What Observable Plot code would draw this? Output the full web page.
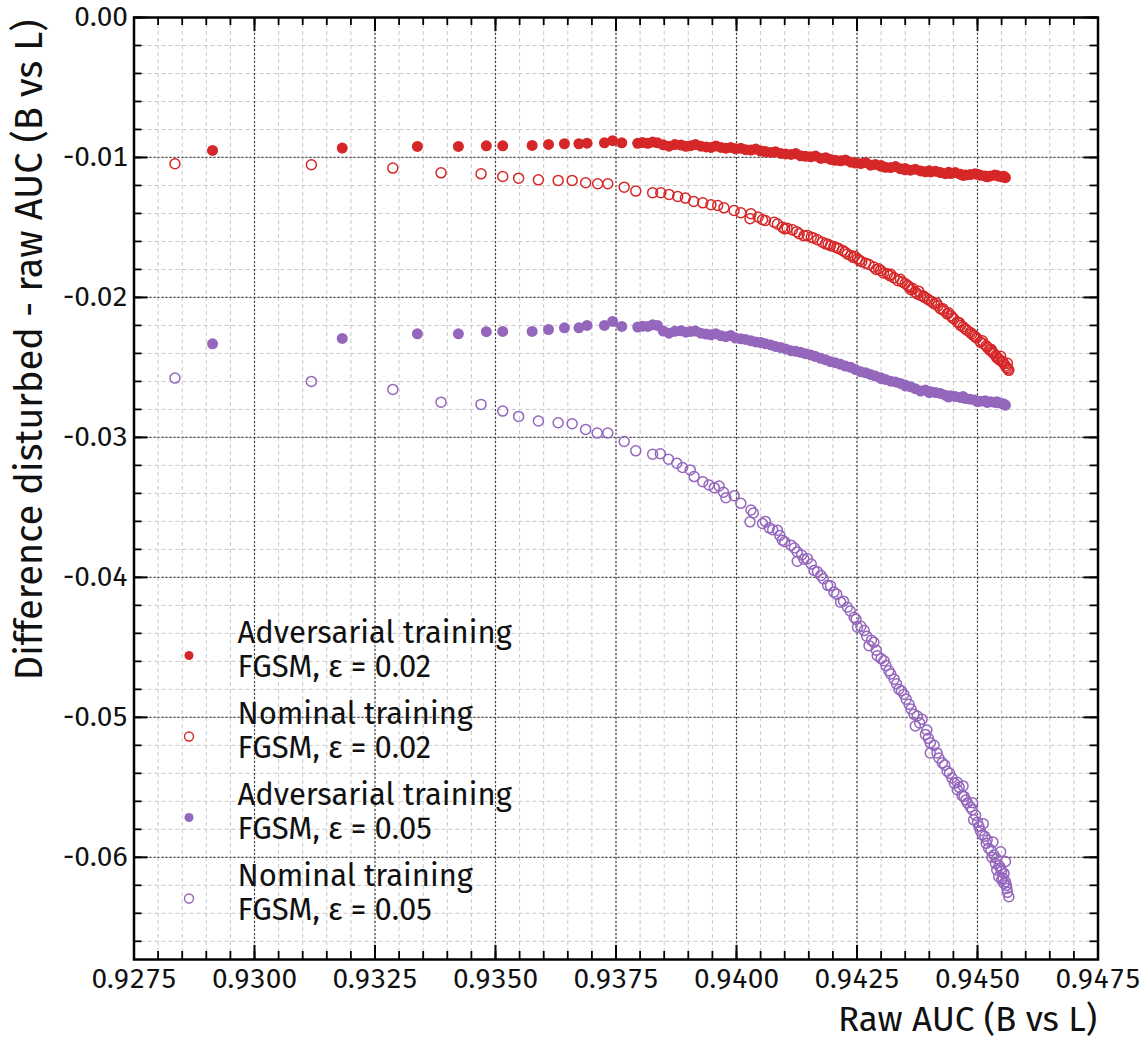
<!DOCTYPE html>
<html><head><meta charset="utf-8">
<script src="https://cdn.jsdelivr.net/npm/d3@7"></script>
<script src="https://cdn.jsdelivr.net/npm/@observablehq/plot@0.6"></script>
<style>body{margin:0;background:#fff;}</style>
</head><body><div id="chart"></div>
<script>
// ---- tick labels ----
const xMajor = [0.9275, 0.9300, 0.9325, 0.9350, 0.9375, 0.9400, 0.9425, 0.9450, 0.9475];
const yMajor = [0, -0.01, -0.02, -0.03, -0.04, -0.05, -0.06];
const xMinor = d3.range(41).map(i => 0.9275 + i * 0.0005);
const yMinor = d3.range(34).map(i => -i * 0.002);

// ---- series ----
// Adversarial training (filled dots): shared raw AUC values
const advX = [0.92913, 0.93182, 0.93338, 0.93423, 0.93481, 0.93515, 0.93576, 0.93610, 0.93643, 0.93673, 0.93690,
  0.93726, 0.93743, 0.93762, 0.93795, 0.93805, 0.93816, 0.93826, 0.93836, 0.93848, 0.93860,
  0.93872, 0.93885, 0.93895, 0.93905, 0.93915, 0.93926, 0.93937, 0.93947, 0.93957, 0.93968,
  0.93978, 0.93988, 0.93998, 0.94009, 0.94019, 0.94030, 0.94040, 0.94050, 0.94060, 0.94071,
  0.94081, 0.94092, 0.94102, 0.94113, 0.94123, 0.94133, 0.94143, 0.94154, 0.94164, 0.94175,
  0.94185, 0.94195, 0.94205, 0.94216, 0.94226, 0.94237, 0.94247, 0.94258, 0.94268, 0.94278,
  0.94288, 0.94299, 0.94309, 0.94320, 0.94330, 0.94340, 0.94350, 0.94361, 0.94371, 0.94382,
  0.94392, 0.94403, 0.94413, 0.94423, 0.94433, 0.94444, 0.94454, 0.94465, 0.94475, 0.94485,
  0.94495, 0.94506, 0.94516, 0.94527, 0.94536, 0.94544, 0.94552, 0.94558,
  0.94300, 0.94350, 0.94400, 0.94440, 0.94470, 0.94500, 0.94520, 0.94540, 0.94555];
const advY02 = [-0.00950, -0.00933, -0.00921, -0.00921, -0.00917, -0.00917, -0.00914, -0.00907, -0.00902, -0.00902, -0.00898,
  -0.00895, -0.00880, -0.00895, -0.00899, -0.00893, -0.00899, -0.00890, -0.00895, -0.00910, -0.00919,
  -0.00908, -0.00911, -0.00920, -0.00916, -0.00908, -0.00919, -0.00925, -0.00928, -0.00918, -0.00928,
  -0.00934, -0.00928, -0.00938, -0.00935, -0.00944, -0.00947, -0.00940, -0.00954, -0.00958, -0.00964,
  -0.00960, -0.00971, -0.00975, -0.00978, -0.00972, -0.00988, -0.00992, -0.00995, -0.00990, -0.01007,
  -0.01002, -0.01014, -0.01020, -0.01024, -0.01018, -0.01034, -0.01040, -0.01043, -0.01036, -0.01055,
  -0.01050, -0.01062, -0.01070, -0.01072, -0.01065, -0.01081, -0.01088, -0.01091, -0.01084, -0.01096,
  -0.01102, -0.01103, -0.01098, -0.01108, -0.01116, -0.01115, -0.01108, -0.01120, -0.01126, -0.01122,
  -0.01117, -0.01127, -0.01133, -0.01132, -0.01126, -0.01134, -0.01140, -0.01144,
  -0.01058, -0.01078, -0.01094, -0.01105, -0.01128, -0.01120, -0.01138, -0.01128, -0.01135];
const advY05 = [-0.02331, -0.02293, -0.02260, -0.02260, -0.02245, -0.02243, -0.02243, -0.02229, -0.02217, -0.02217, -0.02200,
  -0.02200, -0.02171, -0.02207, -0.02212, -0.02205, -0.02207, -0.02196, -0.02200, -0.02240, -0.02255,
  -0.02242, -0.02238, -0.02248, -0.02243, -0.02240, -0.02255, -0.02262, -0.02267, -0.02260, -0.02274,
  -0.02280, -0.02272, -0.02290, -0.02296, -0.02300, -0.02310, -0.02318, -0.02322, -0.02330, -0.02339,
  -0.02350, -0.02358, -0.02368, -0.02380, -0.02385, -0.02392, -0.02402, -0.02411, -0.02422, -0.02435,
  -0.02446, -0.02459, -0.02466, -0.02478, -0.02490, -0.02499, -0.02515, -0.02531, -0.02538, -0.02550,
  -0.02562, -0.02574, -0.02586, -0.02598, -0.02604, -0.02614, -0.02626, -0.02638, -0.02652, -0.02669,
  -0.02662, -0.02674, -0.02680, -0.02686, -0.02698, -0.02703, -0.02708, -0.02715, -0.02722, -0.02727,
  -0.02733, -0.02741, -0.02738, -0.02746, -0.02750, -0.02753, -0.02760, -0.02770,
  -0.02580, -0.02632, -0.02680, -0.02712, -0.02708, -0.02745, -0.02750, -0.02745, -0.02762];

// Nominal training, eps = 0.02 (open red)
const nomX02 = [0.92835, 0.93118, 0.93287, 0.93387, 0.93470, 0.93515, 0.93548, 0.93589, 0.93630, 0.93659, 0.93687,
  0.93712, 0.93733, 0.93767, 0.93791, 0.93826, 0.93843, 0.93860, 0.93878, 0.93894, 0.93911,
  0.93930, 0.93947, 0.93961, 0.93974, 0.93995, 0.94009, 0.94028, 0.94030, 0.94054, 0.94078,
  0.94095, 0.94116, 0.94130, 0.94147, 0.94168, 0.94185, 0.94202, 0.94220, 0.94237, 0.94251,
  0.94268, 0.94285, 0.94299, 0.94313, 0.94327, 0.94344, 0.94358, 0.94371, 0.94382, 0.94396,
  0.94410, 0.94423, 0.94437, 0.94451, 0.94465, 0.94479, 0.94492, 0.94506, 0.94520, 0.94534,
  0.94544, 0.94555, 0.94565,
  0.94045, 0.94085, 0.94105, 0.94140, 0.94160, 0.94178, 0.94195, 0.94212, 0.94230, 0.94245,
  0.94260, 0.94290, 0.94320, 0.94335, 0.94350, 0.94365, 0.94378, 0.94390, 0.94405, 0.94418,
  0.94430, 0.94445, 0.94458, 0.94470, 0.94485, 0.94498, 0.94512, 0.94525, 0.94538, 0.94550,
  0.94560, 0.94562, 0.94548, 0.94530,
  0.94060, 0.94100, 0.94125, 0.94155, 0.94190, 0.94208, 0.94225, 0.94242, 0.94255, 0.94275,
  0.94295, 0.94305, 0.94318, 0.94340, 0.94355, 0.94362, 0.94375, 0.94388, 0.94400, 0.94415,
  0.94428, 0.94440, 0.94448, 0.94462, 0.94475, 0.94488, 0.94495, 0.94510, 0.94518, 0.94532,
  0.94540, 0.94552, 0.94558, 0.94563, 0.94545, 0.94528];
const nomY02 = [-0.01045, -0.01052, -0.01076, -0.01110, -0.01117, -0.01136, -0.01148, -0.01160, -0.01164, -0.01164, -0.01181,
  -0.01188, -0.01188, -0.01212, -0.01240, -0.01252, -0.01252, -0.01264, -0.01279, -0.01290, -0.01314,
  -0.01324, -0.01338, -0.01343, -0.01360, -0.01379, -0.01395, -0.01438, -0.01402, -0.01445, -0.01462,
  -0.01498, -0.01517, -0.01545, -0.01557, -0.01588, -0.01617, -0.01636, -0.01664, -0.01700, -0.01724,
  -0.01755, -0.01783, -0.01807, -0.01831, -0.01860, -0.01890, -0.01926, -0.01962, -0.01986, -0.02010,
  -0.02045, -0.02081, -0.02117, -0.02152, -0.02200, -0.02236, -0.02271, -0.02319, -0.02355, -0.02402,
  -0.02438, -0.02474, -0.02521,
  -0.01425, -0.01475, -0.01505, -0.01560, -0.01575, -0.01605, -0.01630, -0.01650, -0.01690, -0.01705,
  -0.01745, -0.01800, -0.01835, -0.01880, -0.01900, -0.01935, -0.01955, -0.02000, -0.02030, -0.02060,
  -0.02095, -0.02130, -0.02175, -0.02210, -0.02250, -0.02290, -0.02330, -0.02375, -0.02415, -0.02455,
  -0.02500, -0.02470, -0.02420, -0.02385,
  -0.01450, -0.01510, -0.01530, -0.01570, -0.01620, -0.01645, -0.01675, -0.01715, -0.01735, -0.01765,
  -0.01795, -0.01825, -0.01845, -0.01870, -0.01915, -0.01945, -0.01975, -0.01990, -0.02020, -0.02040,
  -0.02080, -0.02110, -0.02145, -0.02180, -0.02225, -0.02260, -0.02280, -0.02310, -0.02345, -0.02395,
  -0.02430, -0.02460, -0.02490, -0.02510, -0.02445, -0.02370];

// Nominal training, eps = 0.05 (open purple)
const nomX05 = [0.92835, 0.93118, 0.93287, 0.93387, 0.93470, 0.93515, 0.93548, 0.93589, 0.93630, 0.93659, 0.93687,
  0.93711, 0.93733, 0.93767, 0.93791, 0.93826, 0.93842, 0.93859, 0.93876, 0.93888, 0.93904,
  0.93912, 0.93930, 0.93943, 0.93954, 0.93964, 0.93973, 0.93978, 0.93995, 0.94009, 0.94030,
  0.94028, 0.94054, 0.94068, 0.94085, 0.94095, 0.94113, 0.94126, 0.94126, 0.94147, 0.94161,
  0.94175, 0.94189, 0.94202, 0.94216, 0.94230, 0.94244, 0.94251, 0.94265, 0.94275, 0.94285,
  0.94292, 0.94306, 0.94316, 0.94327, 0.94337, 0.94347, 0.94358, 0.94368, 0.94371, 0.94385,
  0.94392, 0.94402, 0.94402, 0.94416, 0.94427, 0.94437, 0.94447, 0.94458, 0.94458, 0.94472,
  0.94479, 0.94489, 0.94492, 0.94503, 0.94510, 0.94520, 0.94523, 0.94534, 0.94537, 0.94548,
  0.94555, 0.94558, 0.94561, 0.94565, 0.94555, 0.94544,
  0.94035, 0.94060, 0.94075, 0.94090, 0.94100, 0.94120, 0.94135, 0.94140, 0.94155, 0.94168,
  0.94180, 0.94195, 0.94208, 0.94222, 0.94236, 0.94248, 0.94258, 0.94270, 0.94280, 0.94290,
  0.94300, 0.94310, 0.94320, 0.94332, 0.94342, 0.94352, 0.94362, 0.94375, 0.94380, 0.94395,
  0.94398, 0.94410, 0.94420, 0.94432, 0.94442, 0.94452, 0.94462, 0.94468, 0.94476, 0.94485,
  0.94496, 0.94500, 0.94506, 0.94515, 0.94518, 0.94528, 0.94540, 0.94545, 0.94550, 0.94553,
  0.94560, 0.94562, 0.94550, 0.94540, 0.94530, 0.94558, 0.94548, 0.94532, 0.94512, 0.94490,
  0.94470];
const nomY05 = [-0.02576, -0.02600, -0.02657, -0.02748, -0.02764, -0.02812, -0.02850, -0.02883, -0.02895, -0.02902, -0.02943,
  -0.02969, -0.02969, -0.03029, -0.03096, -0.03120, -0.03117, -0.03156, -0.03184, -0.03215, -0.03232,
  -0.03280, -0.03316, -0.03340, -0.03359, -0.03347, -0.03392, -0.03431, -0.03416, -0.03471, -0.03519,
  -0.03603, -0.03615, -0.03646, -0.03663, -0.03734, -0.03770, -0.03818, -0.03885, -0.03866, -0.03950,
  -0.03986, -0.04057, -0.04105, -0.04177, -0.04213, -0.04285, -0.04356, -0.04380, -0.04488, -0.04464,
  -0.04560, -0.04596, -0.04667, -0.04727, -0.04799, -0.04835, -0.04907, -0.04978, -0.05062, -0.05014,
  -0.05122, -0.05182, -0.05254, -0.05254, -0.05325, -0.05385, -0.05433, -0.05464, -0.05517, -0.05565,
  -0.05612, -0.05660, -0.05732, -0.05780, -0.05840, -0.05876, -0.05935, -0.05983, -0.06043, -0.06079,
  -0.06115, -0.06175, -0.06222, -0.06282, -0.06187, -0.06139,
  -0.03540, -0.03600, -0.03660, -0.03700, -0.03745, -0.03790, -0.03840, -0.03870, -0.03905, -0.03960,
  -0.04010, -0.04060, -0.04120, -0.04170, -0.04240, -0.04300, -0.04350, -0.04420, -0.04450, -0.04520,
  -0.04580, -0.04630, -0.04690, -0.04760, -0.04810, -0.04870, -0.04940, -0.04990, -0.05040, -0.05090,
  -0.05150, -0.05200, -0.05290, -0.05340, -0.05400, -0.05470, -0.05500, -0.05560, -0.05590, -0.05640,
  -0.05700, -0.05750, -0.05810, -0.05850, -0.05900, -0.05950, -0.06010, -0.06060, -0.06100, -0.06150,
  -0.06200, -0.06250, -0.06160, -0.06090, -0.06000, -0.06030, -0.05960, -0.05890, -0.05760, -0.05610,
  -0.05490];

const RED = "#d62728", PURPLE = "#9467bd";
const legendLabels = ["Adversarial training\nFGSM, ε = 0.02", "Nominal training\nFGSM, ε = 0.02",
                      "Adversarial training\nFGSM, ε = 0.05", "Nominal training\nFGSM, ε = 0.05"];
const legendColors = [RED, RED, PURPLE, PURPLE];
const legendFilled = [true, false, true, false];

const toRows = (xs, ys) => xs.map((x, i) => ({x, y: ys[i]}));
const sAdv02 = toRows(advX, advY02), sAdv05 = toRows(advX, advY05);
const sNom02 = toRows(nomX02, nomY02), sNom05 = toRows(nomX05, nomY05);

const W = 1142, H = 1040, ML = 133.5, MR = 44.5, MT = 17, MB = 81;
const FW = W - ML - MR, FH = H - MT - MB;
const FONT = "'Fira Sans', 'Open Sans', sans-serif";
const legend = legendLabels.map((label, i) => ({label, i, color: legendColors[i], filled: legendFilled[i]}));

const legendMarks = legend.flatMap((d, i) => [
  Plot.dot([d], {frameAnchor: "bottom-left", dx: 55, dy: -304 + 81 * i, r: 4.5,
    fill: d.filled ? d.color : "none", stroke: d.filled ? "none" : d.color, strokeWidth: 1.4}),
  Plot.text([d], {text: "label", frameAnchor: "bottom-left", dx: 103.5, dy: -310 + 81 * i,
    textAnchor: "start", lineAnchor: "middle", lineHeight: 1.1, fontSize: 31, fill: "#111"})
]);

const plot = Plot.plot({
  width: W, height: H,
  marginLeft: ML, marginRight: MR, marginTop: MT, marginBottom: MB,
  style: {fontFamily: FONT, color: "#111", background: "#fff", overflow: "visible"},
  x: {domain: [0.9275, 0.9475]},
  y: {domain: [-0.0673, 0]},
  marks: [
    Plot.ruleX(xMinor, {x: d => d, stroke: "#c8c8c8", strokeDasharray: "4,3", strokeWidth: 1}),
    Plot.ruleY(yMinor, {y: d => d, stroke: "#c8c8c8", strokeDasharray: "4,3", strokeWidth: 1}),
    Plot.ruleX(xMajor, {x: d => d, stroke: "#444", strokeDasharray: "2,2", strokeWidth: 1.2}),
    Plot.ruleY(yMajor, {y: d => d, stroke: "#444", strokeDasharray: "2,2", strokeWidth: 1.2}),
    Plot.dot(sAdv02, {x: "x", y: "y", r: 5.5, fill: RED, stroke: "none"}),
    Plot.dot(sNom02, {x: "x", y: "y", r: 5, fill: "none", stroke: RED, strokeWidth: 1.5}),
    Plot.dot(sAdv05, {x: "x", y: "y", r: 5.5, fill: PURPLE, stroke: "none"}),
    Plot.dot(sNom05, {x: "x", y: "y", r: 5, fill: "none", stroke: PURPLE, strokeWidth: 1.5}),
    // inward ticks on all four sides
    Plot.tickX(xMinor, {x: d => d, insetTop: FH - 8, stroke: "#000", strokeWidth: 1.8}),
    Plot.tickX(xMajor, {x: d => d, insetTop: FH - 14, stroke: "#000", strokeWidth: 2}),
    Plot.tickX(xMinor, {x: d => d, insetBottom: FH - 8, stroke: "#000", strokeWidth: 1.8}),
    Plot.tickX(xMajor, {x: d => d, insetBottom: FH - 14, stroke: "#000", strokeWidth: 2}),
    Plot.tickY(yMinor, {y: d => d, insetRight: FW - 8, stroke: "#000", strokeWidth: 1.8}),
    Plot.tickY(yMajor, {y: d => d, insetRight: FW - 14, stroke: "#000", strokeWidth: 2}),
    Plot.tickY(yMinor, {y: d => d, insetLeft: FW - 8, stroke: "#000", strokeWidth: 1.8}),
    Plot.tickY(yMajor, {y: d => d, insetLeft: FW - 14, stroke: "#000", strokeWidth: 2}),
    Plot.frame({stroke: "#000", strokeWidth: 2.5}),
    Plot.axisX(xMajor, {anchor: "bottom", tickSize: 0, tickPadding: 9, tickFormat: d => d.toFixed(4), fontSize: 28, label: null}),
    Plot.axisY(yMajor, {anchor: "left", tickSize: 0, tickPadding: 6, tickFormat: d => d.toFixed(2), fontSize: 28, label: null}),
    Plot.text(["Raw AUC (B vs L)"], {frameAnchor: "bottom-right", textAnchor: "end", lineAnchor: "bottom", dy: 71, dx: -1, fontSize: 35, fill: "#111"}),
    Plot.text(["Difference disturbed - raw AUC (B vs L)"], {frameAnchor: "top-left", rotate: -90, textAnchor: "end", lineAnchor: "middle", dx: -104.5, dy: 2, fontSize: 38, fill: "#111"}),
    ...legendMarks
  ]
});
document.getElementById("chart").append(plot);
</script>
</body></html>
